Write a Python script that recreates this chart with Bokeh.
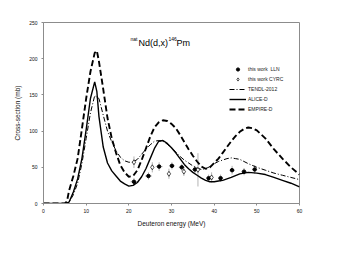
from bokeh.plotting import figure
from bokeh.models import Range1d, Legend, LegendItem, Label, FixedTicker
from bokeh.embed import file_html
from bokeh.resources import INLINE

# ---------------- data ----------------
alice_x = [0, 5, 6, 7, 8, 9, 10, 11, 12, 12.5, 13, 14, 15, 16, 17, 18, 19, 20, 21, 22, 23, 24, 25, 26, 27, 28, 29, 30,
           31, 32, 33, 34, 35, 36, 37, 38, 39, 40, 41, 42, 44, 46, 48, 50, 52, 54, 56, 58, 60]
alice_y = [0, 0, 2, 16, 34, 62, 102, 145, 168, 155, 120, 78, 56, 45, 38, 31, 27, 24, 25, 29, 37, 48, 62, 76, 86, 87, 83, 77,
           70, 62, 54, 48, 43, 39, 35, 32, 30, 30, 31, 32, 36, 41, 43, 42, 40, 36, 32, 28, 23]

empire_x = [0, 5, 5.5, 6, 7, 8, 9, 10, 11, 12, 12.5, 13, 14, 15, 16, 17, 18, 19, 20, 21, 22, 23, 24, 25, 26, 27, 28, 29,
            30, 31, 32, 33, 34, 35, 36, 37, 38, 39, 40, 41, 42, 43, 44, 45, 46, 47, 48, 49, 50, 52, 54, 56, 58, 60]
empire_y = [0, 0, 3, 18, 38, 62, 103, 145, 182, 208, 211, 196, 158, 118, 90, 70, 53, 43, 37, 38, 46, 60, 76, 92, 105, 112,
            115, 114, 110, 104, 95, 85, 75, 66, 58, 51, 48, 50, 56, 62, 70, 78, 86, 93, 99, 103, 105, 104, 101, 90, 75,
            62, 50, 40]

tendl_x = [0, 5, 6, 7, 8, 9, 10, 11, 12, 13, 14, 15, 16, 17, 18, 19, 20, 21, 22, 23, 24, 25, 26, 27, 28, 29, 30, 31, 32,
           33, 34, 35, 36, 37, 38, 39, 40, 41, 42, 43, 44, 45, 46, 47, 48, 50, 52, 54, 56, 58, 60]
tendl_y = [0, 0, 2, 12, 28, 55, 90, 125, 149, 145, 122, 100, 85, 73, 64, 59, 57, 57, 61, 68, 75, 81, 86, 87, 86, 82, 77,
           71, 65, 60, 56, 52, 49, 47, 48, 51, 55, 58, 60, 62, 63, 62, 61, 58, 55, 50, 46, 42, 39, 36, 33]

lln_x = [21.2, 24.6, 27.1, 30.1, 32.4, 35.5, 38.7, 41.5, 44.2, 47.0, 49.5]
lln_y = [30, 38, 51, 52, 50, 47, 35, 35, 46, 44, 47]
lln_yerr = [5, 5, 6, 5, 5, 5, 5, 5, 6, 5, 6]
lln_xerr = [0.8, 0.8, 0.8, 0.7, 0.7, 0.7, 0.6, 0.6, 0.6, 0.6, 0.6]

cyrc_x = [21.2, 25.5, 29.4, 32.9, 36.2, 39.4]
cyrc_y = [57, 50, 41, 44, 46.5, 36]
cyrc_yerr = [8, 7, 7, 6, 23, 7]

x_ticks = [0, 10, 20, 30, 40, 50, 60]
y_ticks = [0, 50, 100, 150, 200, 250]

FONT = "Liberation Sans"
GRAY = "#8c8c8c"

p = figure(width=325, height=248, output_backend="svg", toolbar_location=None,
           x_range=Range1d(0, 60), y_range=Range1d(0, 250),
           min_border_left=43, min_border_right=26, min_border_top=22, min_border_bottom=45)
p.xgrid.visible = False
p.ygrid.visible = False
p.outline_line_color = GRAY
p.outline_line_width = 1
p.background_fill_color = "white"

p.xaxis.ticker = FixedTicker(ticks=x_ticks)
p.yaxis.ticker = FixedTicker(ticks=y_ticks)
for ax in (p.xaxis[0], p.yaxis[0]):
    ax.axis_line_color = GRAY
    ax.major_tick_line_color = GRAY
    ax.major_tick_in = 0
    ax.major_tick_out = 2
    ax.minor_tick_line_color = None
    ax.major_label_text_font = FONT
    ax.major_label_text_font_size = "5px"
    ax.major_label_text_color = "#111111"
    ax.axis_label_text_font = FONT
    ax.axis_label_text_font_size = "6.5px"
    ax.axis_label_text_font_style = "normal"
    ax.axis_label_text_color = "#111111"
p.xaxis.axis_label = "Deuteron energy (MeV)"
p.yaxis.axis_label = "Cross-section (mb)"
p.xaxis.major_label_standoff = 3
p.yaxis.major_label_standoff = 4
p.xaxis.axis_label_standoff = 4
p.yaxis.axis_label_standoff = 5

# error bars
lln_lo = [y - e for y, e in zip(lln_y, lln_yerr)]
lln_hi = [y + e for y, e in zip(lln_y, lln_yerr)]
lln_l = [x - e for x, e in zip(lln_x, lln_xerr)]
lln_r = [x + e for x, e in zip(lln_x, lln_xerr)]
p.segment(lln_x, lln_lo, lln_x, lln_hi, line_color="#a0a0a0", line_width=0.8)
p.segment(lln_l, lln_y, lln_r, lln_y, line_color="#a0a0a0", line_width=0.8)
cy_lo = [y - e for y, e in zip(cyrc_y, cyrc_yerr)]
cy_hi = [y + e for y, e in zip(cyrc_y, cyrc_yerr)]
p.segment(cyrc_x, cy_lo, cyrc_x, cy_hi, line_color="#a0a0a0", line_width=0.8)

r_tendl = p.line(tendl_x, tendl_y, line_color="black", line_width=1, line_dash="5 2 1 2")
r_alice = p.line(alice_x, alice_y, line_color="black", line_width=1.4)
r_empire = p.line(empire_x, empire_y, line_color="black", line_width=1.9, line_dash="6 3")

r_lln = p.scatter(lln_x, lln_y, marker="circle", size=3.5, fill_color="black", line_color="black")
r_cyrc = p.scatter(cyrc_x, cyrc_y, marker="diamond", size=5, fill_color="white", line_color="black", line_width=0.7)

legend = Legend(items=[
    LegendItem(label="this work  LLN", renderers=[r_lln]),
    LegendItem(label="this work CYRC", renderers=[r_cyrc]),
    LegendItem(label="TENDL-2012", renderers=[r_tendl]),
    LegendItem(label="ALICE-D", renderers=[r_alice]),
    LegendItem(label="EMPIRE-D", renderers=[r_empire]),
], location=(186, 90), label_text_font=FONT, label_text_font_size="5px", label_text_color="#222222",
    glyph_width=17, glyph_height=8, label_height=8, spacing=2, padding=0, margin=0,
    label_standoff=2, border_line_alpha=0, background_fill_alpha=0)
p.add_layout(legend)

# title with superscripts
tkw = dict(text_font=FONT, text_color="black", text_baseline="middle", text_align="left", x_units="data", y_units="data")
p.add_layout(Label(x=0, y=227, x_offset=87, text="nat", text_font_size="5px", **tkw))
p.add_layout(Label(x=0, y=222, x_offset=95, text="Nd(d,x)", text_font_size="9px", **tkw))
p.add_layout(Label(x=0, y=227, x_offset=125, text="146", text_font_size="5px", **tkw))
p.add_layout(Label(x=0, y=222, x_offset=133, text="Pm", text_font_size="9px", **tkw))

open("out.html", "w").write(file_html(p, INLINE))
